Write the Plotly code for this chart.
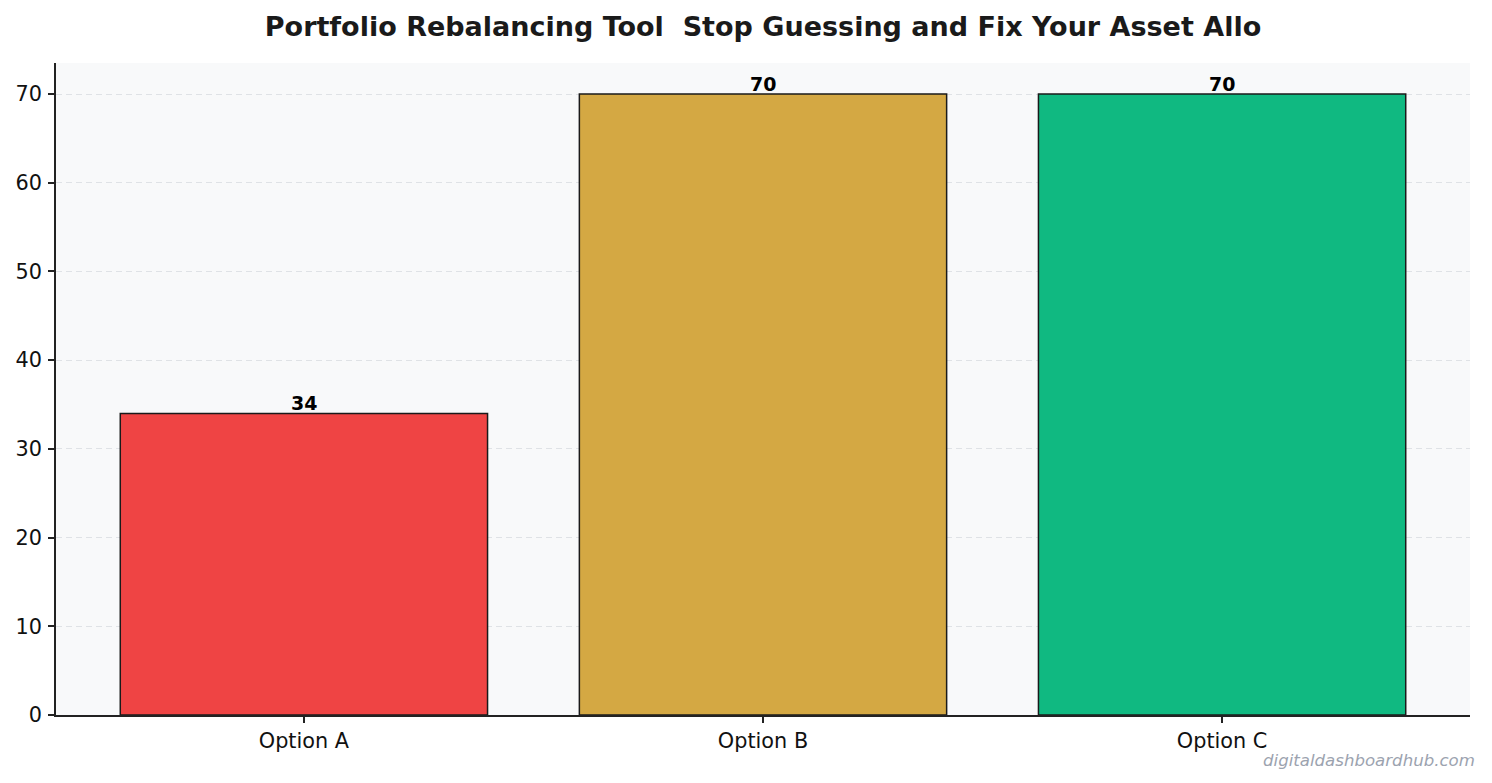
import plotly.graph_objects as go

categories = ["Option A", "Option B", "Option C"]
values = [34, 70, 70]
colors = ["#ef4444", "#d4a843", "#10b981"]
title = "Portfolio Rebalancing Tool  Stop Guessing and Fix Your Asset Allo"
y_ticks = [0, 10, 20, 30, 40, 50, 60, 70]

FONT = "DejaVu Sans"

fig = go.Figure()
fig.add_trace(go.Bar(
    x=list(range(len(categories))),
    y=values,
    width=0.8,
    marker=dict(color=colors, line=dict(color="#1a1a1a", width=1.5)),
    hoverinfo="skip",
))

for i, v in enumerate(values):
    fig.add_annotation(x=i, y=v, text=f"<b>{v}</b>", showarrow=False,
                       xanchor="center", yanchor="bottom", yshift=-3,
                       font=dict(family=FONT, size=19, color="#000000"))

fig.add_annotation(xref="paper", yref="paper", x=1.005, y=-0.052,
                   text="<i>digitaldashboardhub.com</i>", showarrow=False,
                   xanchor="right", yanchor="top",
                   font=dict(family=FONT, size=16.6, color="#9ca3af"))

fig.update_layout(
    width=1492, height=783,
    margin=dict(l=56, r=22, t=63, b=68),
    paper_bgcolor="#ffffff",
    plot_bgcolor="#f8f9fa",
    showlegend=False,
    title=dict(text=f"<b>{title}</b>", x=0.5114, xanchor="center", y=0.966, yanchor="middle",
               font=dict(family=FONT, size=27, color="#1a1a1a")),
    font=dict(family=FONT, size=20.8, color="#111111"),
    bargap=0.2,
)
fig.update_xaxes(
    range=[-0.54, 2.54], tickmode="array", tickvals=list(range(len(categories))),
    ticktext=categories, showgrid=False, zeroline=False,
    showline=True, linecolor="#222222", linewidth=1.5,
    ticks="outside", ticklen=6, tickwidth=1.5, tickcolor="#222222",
    tickfont=dict(family=FONT, size=20.8, color="#111111"),
)
fig.update_yaxes(
    range=[0, 73.5], tickmode="array", tickvals=y_ticks,
    showgrid=True, gridcolor="#dfe2e6", griddash="6px,4px", gridwidth=1,
    zeroline=False, showline=True, linecolor="#222222", linewidth=1.5,
    ticks="outside", ticklen=6, tickwidth=1.5, tickcolor="#222222",
    ticklabelstandoff=2,
    tickfont=dict(family=FONT, size=20.8, color="#111111"),
)

fig.write_html("out.html")
